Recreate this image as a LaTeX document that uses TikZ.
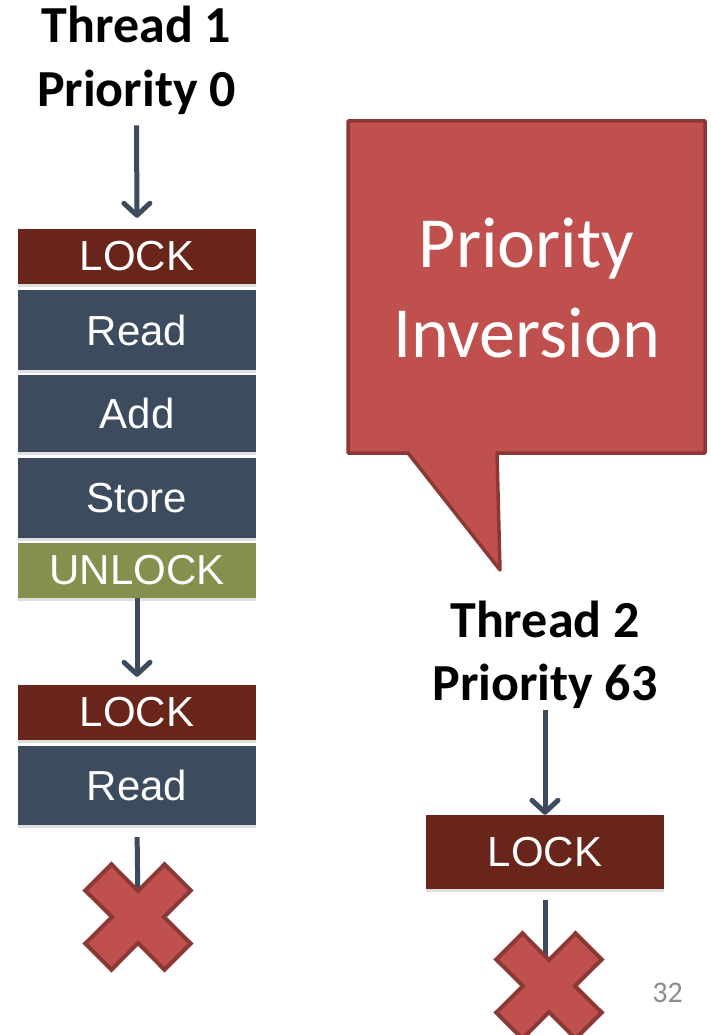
\documentclass[tikz,border=0pt]{standalone}
\usepackage{fontspec}
\setmainfont{Liberation Sans}
\newfontfamily\calibri{Carlito}
\usetikzlibrary{arrows.meta,shadows}
\definecolor{lockc}{HTML}{692519}
\definecolor{opc}{HTML}{3C4B5E}
\definecolor{unlockc}{HTML}{85904F}
\definecolor{calfill}{HTML}{C0504D}
\definecolor{caldraw}{HTML}{8C3836}
\definecolor{pgnum}{HTML}{8C8C8C}
\tikzset{
  box/.style={minimum width=238pt, inner sep=0pt, text=white,
    font=\fontsize{42}{48}\selectfont,
    drop shadow={opacity=0.25, shadow xshift=0pt, shadow yshift=-3pt}},
  title/.style={anchor=base, font=\calibri\bfseries\fontsize{52}{60}\selectfont, inner sep=0pt},
  calltext/.style={anchor=base, text=white, font=\calibri\fontsize{72}{80}\selectfont, inner sep=0pt},
  arrline/.style={draw=opc, line width=5pt},
  arr/.style={arrline, -{Straight Barb[length=12pt,width=26pt,round]}},
  xshape/.style={fill=calfill, draw=caldraw, line width=4pt, line join=miter},
  xcross/.pic={\path[xshape] (0,-26) -- (26.5,-52.7) -- (52.7,-26.5) -- (26,0) -- (52.7,26.5) -- (26.5,52.7) -- (0,26) -- (-26.5,52.7) -- (-52.7,26.5) -- (-26,0) -- (-52.7,-26.5) -- (-26.5,-52.7) -- cycle;}
}
\begin{document}
\begin{tikzpicture}[x=1pt,y=-1pt]
\useasboundingbox (0,0) rectangle (710,1035);
% Thread 1
\node[title] (t1a) at (136.5,43) {Thread 1};
\node[title] (t1b) at (136.5,107) {Priority 0};
\node[box, fill=lockc, minimum height=55pt] (l1) at (137,256.5) {LOCK};
\node[box, fill=opc, minimum height=80pt] (r1) at (137,330) {Read};
\node[box, fill=opc, minimum height=77pt] (a1) at (137,413.5) {Add};
\node[box, fill=opc, minimum height=80pt] (s1) at (137,498) {Store};
\node[box, fill=unlockc, minimum height=55pt] (u1) at (137,570.5) {UNLOCK};
\node[box, fill=lockc, minimum height=55pt] (l2) at (137,712.5) {LOCK};
\node[box, fill=opc, minimum height=79pt] (r2) at (137,785.5) {Read};
\coordinate (x1) at (138,912);
\draw[arr, shorten <=10pt, shorten >=11pt] (t1b.south) -- (l1.north);
\draw[arr, shorten >=8pt] (u1.south) -- (l2.north);
\draw[arrline, shorten <=12pt] (r2.south) -- (x1);
\pic at (138,917) {xcross};
% callout
\path[fill=calfill, draw=caldraw, line width=3.5pt, line join=round]
  (348,121) -- (705,121) -- (705,453) -- (497,453) -- (500,570) -- (408,453) -- (348,453) -- cycle;
\node[calltext] (c1) at (526.5,267) {Priority};
\node[calltext] (c2) at (526.5,357) {Inversion};
% Thread 2
\node[title] (t2a) at (545,637) {Thread 2};
\node[title] (t2b) at (545,700) {Priority 63};
\node[box, fill=lockc, minimum height=74pt] (l3) at (545,852) {LOCK};
\coordinate (x2) at (545,980);
\draw[arr, shorten <=2pt] (t2b.south) -- (l3.north);
\draw[arrline, shorten <=11pt] (l3.south) -- (x2);
\pic at (549,986) {xcross};
% page number
\node[anchor=base east, inner sep=0pt, text=pgnum, font=\calibri\fontsize{30}{36}\selectfont] (pg) at (683,1002) {32};
\end{tikzpicture}
\end{document}
